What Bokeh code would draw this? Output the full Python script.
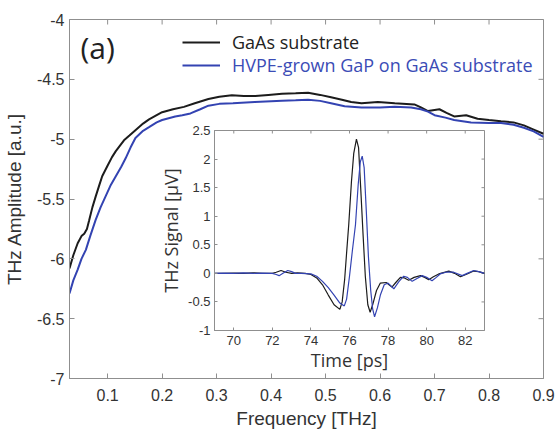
import math
from bokeh.plotting import figure
from bokeh.models import FixedTicker, Range1d, Legend, LegendItem, Label
from bokeh.layouts import column
from bokeh.embed import file_html
from bokeh.resources import INLINE

# ---------------- data ----------------
freq_gaas = [0.03, 0.037, 0.045, 0.052, 0.057, 0.062, 0.066, 0.072, 0.078, 0.085,
             0.09, 0.1, 0.108, 0.115, 0.13, 0.14, 0.151, 0.165, 0.176, 0.19,
             0.2, 0.22, 0.24, 0.26, 0.285, 0.305, 0.328, 0.35, 0.371, 0.395,
             0.42, 0.445, 0.468, 0.49, 0.51, 0.53, 0.547, 0.566, 0.596, 0.627,
             0.663, 0.675, 0.688, 0.709, 0.722, 0.736, 0.758, 0.779, 0.80, 0.822,
             0.845, 0.864, 0.882, 0.9]
amp_gaas = [-6.08, -5.97, -5.87, -5.81, -5.79, -5.75, -5.68, -5.57, -5.48, -5.38,
            -5.31, -5.22, -5.15, -5.10, -5.01, -4.97, -4.925, -4.87, -4.835, -4.80,
            -4.775, -4.75, -4.73, -4.70, -4.665, -4.645, -4.633, -4.64, -4.64, -4.63,
            -4.62, -4.617, -4.613, -4.63, -4.65, -4.67, -4.69, -4.70, -4.69, -4.70,
            -4.71, -4.735, -4.765, -4.75, -4.78, -4.81, -4.80, -4.83, -4.84, -4.85,
            -4.86, -4.885, -4.92, -4.955]

freq_gap = [0.03, 0.037, 0.045, 0.052, 0.06, 0.068, 0.078, 0.087, 0.096, 0.105,
            0.115, 0.125, 0.133, 0.142, 0.151, 0.165, 0.176, 0.19, 0.2, 0.224,
            0.237, 0.252, 0.27, 0.285, 0.305, 0.33, 0.37, 0.42, 0.445, 0.468,
            0.49, 0.51, 0.535, 0.566, 0.6, 0.627, 0.657, 0.675, 0.688, 0.70,
            0.72, 0.736, 0.767, 0.80, 0.822, 0.845, 0.864, 0.882, 0.9]
amp_gap = [-6.29, -6.18, -6.09, -6.00, -5.925, -5.81, -5.675, -5.57, -5.48, -5.39,
           -5.31, -5.23, -5.16, -5.07, -4.99, -4.93, -4.90, -4.86, -4.84, -4.81,
           -4.80, -4.785, -4.75, -4.72, -4.705, -4.70, -4.69, -4.68, -4.675, -4.67,
           -4.68, -4.70, -4.725, -4.735, -4.735, -4.73, -4.735, -4.75, -4.77, -4.80,
           -4.82, -4.84, -4.86, -4.865, -4.865, -4.88, -4.905, -4.935, -4.98]

time_gaas = [69, 69.5, 70, 70.5, 71, 71.5, 72, 72.2, 72.45, 72.7,
             73, 73.3, 73.7, 74, 74.3, 74.6, 74.9, 75.2, 75.5, 75.62,
             75.75, 75.87, 75.96, 76.1, 76.22, 76.36, 76.47, 76.58, 76.7, 76.82,
             76.95, 77.07, 77.2, 77.4, 77.6, 77.9, 78.2, 78.4, 78.64, 78.85,
             79.07, 79.35, 79.68, 79.9, 80.11, 80.35, 80.63, 81.15, 81.45, 81.75,
             82.1, 82.44, 82.7, 83]
sig_gaas = [0, 0, 0.005, 0, 0.01, 0, 0, 0.02, 0.05, 0.02,
            0, 0.01, 0, -0.02, -0.08, -0.2, -0.38, -0.55, -0.63, -0.5,
            -0.1, 0.45, 0.85, 1.6, 2.1, 2.35, 2.2, 1.5, 0.7, -0.05,
            -0.55, -0.68, -0.55, -0.3, -0.17, -0.16, -0.24, -0.16, -0.07, -0.08,
            -0.12, -0.07, -0.04, -0.07, -0.11, -0.06, -0.01, 0.04, 0, -0.06,
            -0.01, 0.04, 0.03, 0]

time_gap = [69, 69.5, 70, 70.5, 71, 71.5, 72, 72.2, 72.35, 72.55,
            72.8, 73.0, 73.2, 73.5, 74, 74.3, 74.6, 74.9, 75.2, 75.5,
            75.73, 75.85, 76.0, 76.15, 76.31, 76.45, 76.56, 76.66, 76.76, 76.87,
            76.98, 77.1, 77.2, 77.3, 77.45, 77.6, 77.8, 78.0, 78.3, 78.55,
            78.81, 79.0, 79.25, 79.5, 79.77, 80.0, 80.28, 80.5, 80.7, 81.0,
            81.4, 81.84, 82.1, 82.44, 82.7, 83]
sig_gap = [0, 0.005, 0, 0.01, 0, 0.005, 0, -0.02, -0.04, 0,
           0.05, 0.03, 0, 0, -0.01, -0.05, -0.14, -0.25, -0.38, -0.52,
           -0.57, -0.45, -0.05, 0.4, 0.85, 1.55, 1.95, 2.05, 1.85, 1.1,
           0.3, -0.3, -0.62, -0.76, -0.6, -0.38, -0.2, -0.17, -0.27, -0.15,
           -0.05, -0.07, -0.14, -0.09, -0.04, -0.07, -0.13, -0.07, -0.01, 0.02,
           0.02, -0.04, 0, 0.05, 0.03, 0]

main_xticks = [0.1, 0.2, 0.3, 0.4, 0.5, 0.6, 0.7, 0.8, 0.9]
main_yticks = [-7, -6.5, -6, -5.5, -5, -4.5, -4]
inset_xticks = [70, 72, 74, 76, 78, 80, 82]
inset_yticks = [-1, -0.5, 0, 0.5, 1, 1.5, 2, 2.5]
legend_labels = ["GaAs substrate", "HVPE-grown GaP on GaAs substrate"]
panel_tag = "(a)"

# ---------------- style ----------------
BLACK = "#1c1c1c"
BLUE = "#3343b2"
BLUE_TXT = "#3b4cb6"
AX = "#8f8f8f"
TXT = "#333333"
ARIAL = "Liberation Sans"
SEGOE = "Open Sans"


def fmt(v):
    return {t: ("%g" % t) for t in v}


def style_axis(ax, ticks, size, tick_len, standoff):
    ax.ticker = FixedTicker(ticks=ticks)
    ax.major_tick_in = tick_len
    ax.major_tick_out = 0
    ax.minor_tick_in = 0
    ax.minor_tick_out = 0
    ax.axis_line_color = AX
    ax.major_tick_line_color = AX
    ax.major_label_text_font = ARIAL
    ax.major_label_text_color = TXT
    ax.major_label_standoff = standoff
    ax.major_label_overrides = fmt(ticks)
    ax.major_label_text_font_size = size


def box_ticks(fig, xticks, yticks, tick_len):
    # inward tick marks on the top and right edges of the frame (box on)
    xr, yr = fig.x_range, fig.y_range
    fig.scatter(x=xticks, y=[yr.end] * len(xticks), marker="dash", angle=math.pi / 2,
                size=2 * tick_len, line_color=AX, line_width=1)
    fig.scatter(x=[xr.end] * len(yticks), y=yticks, marker="dash",
                size=2 * tick_len, line_color=AX, line_width=1)


# ---------------- main figure ----------------
p = figure(width=556, height=433, x_range=Range1d(0.03, 0.9), y_range=Range1d(-7, -4),
           output_backend="svg", toolbar_location=None,
           min_border_left=67, min_border_right=13, min_border_top=19, min_border_bottom=55)
p.xgrid.visible = False
p.ygrid.visible = False
p.outline_line_color = AX
p.background_fill_color = "white"
p.border_fill_color = "white"

style_axis(p.xaxis[0], main_xticks, "16px", 5, 10)
style_axis(p.yaxis[0], main_yticks, "16px", 5, 5)
p.xaxis[0].axis_label = "Frequency [THz]"
p.yaxis[0].axis_label = "THz Amplitude [a.u.]"
for ax in (p.xaxis[0], p.yaxis[0]):
    ax.axis_label_text_font = ARIAL
    ax.axis_label_text_font_size = "19px"
    ax.axis_label_text_font_style = "normal"
    ax.axis_label_text_color = TXT
p.xaxis[0].axis_label_standoff = 4
p.yaxis[0].axis_label_standoff = 9

box_ticks(p, main_xticks, main_yticks, 5)

r1 = p.line(freq_gaas, amp_gaas, line_color=BLACK, line_width=2)
r2 = p.line(freq_gap, amp_gap, line_color=BLUE, line_width=2)

for i, (r, c, loc) in enumerate([(r1, "#222222", (113, 324)), (r2, BLUE_TXT, (113, 301))]):
    leg = Legend(items=[LegendItem(label=legend_labels[i], renderers=[r])], location=loc,
                 padding=0, margin=0, spacing=0, glyph_width=38, glyph_height=20,
                 label_standoff=12, label_text_font=SEGOE, label_text_font_size="18px",
                 label_text_color=c, border_line_color=None, background_fill_alpha=0,
                 label_height=20)
    p.add_layout(leg)

p.add_layout(Label(x=0.05, y=-4.233, text=panel_tag, text_font=SEGOE, text_font_size="30px",
                   text_color="#222222", text_baseline="middle"))

# ---------------- inset ----------------
inset = figure(frame_width=270, frame_height=200, x_range=Range1d(69, 83), y_range=Range1d(-1, 2.5),
               output_backend="svg", toolbar_location=None,
               min_border_left=64, min_border_right=6, min_border_top=10, min_border_bottom=50,
               styles={"position": "absolute", "left": "145px", "top": "120px"})
inset.xgrid.visible = False
inset.ygrid.visible = False
inset.outline_line_color = AX
inset.background_fill_color = "white"
inset.border_fill_alpha = 0

style_axis(inset.xaxis[0], inset_xticks, "13px", 3, 5)
style_axis(inset.yaxis[0], inset_yticks, "13px", 3, 4)
inset.xaxis[0].axis_label = "Time [ps]"
inset.yaxis[0].axis_label = "THz Signal [\u03bcV]"
for ax in (inset.xaxis[0], inset.yaxis[0]):
    ax.axis_label_text_font = SEGOE
    ax.axis_label_text_font_size = "18px"
    ax.axis_label_text_font_style = "normal"
    ax.axis_label_text_color = TXT
inset.xaxis[0].axis_label_standoff = 0
inset.yaxis[0].axis_label_standoff = 2

box_ticks(inset, inset_xticks, inset_yticks, 3)

inset.line(time_gaas, sig_gaas, line_color=BLACK, line_width=1.2)
inset.line(time_gap, sig_gap, line_color=BLUE, line_width=1.2)

layout = column(p, inset)
open("out.html", "w").write(file_html(layout, INLINE))
